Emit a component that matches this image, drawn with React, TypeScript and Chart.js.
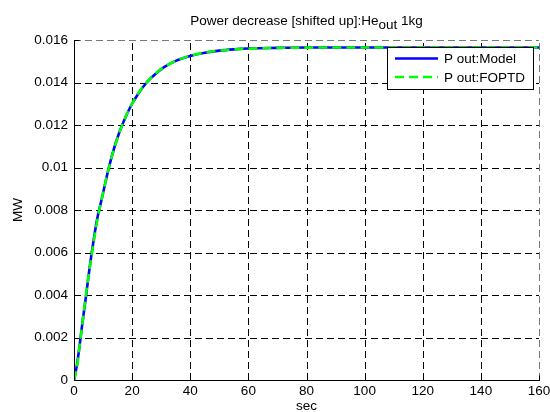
import React, { useEffect, useRef } from 'react';
import { Chart, registerables } from 'chart.js';

Chart.register(...registerables);

// ---- data ----
const timeSec = [0, 1, 2, 3, 4, 5, 6, 7, 8, 9, 10, 12, 14, 16, 18, 20, 22, 25, 28, 31, 35, 40, 45, 50, 55, 60, 70, 80, 90, 100, 110, 120, 130, 140, 150, 160];
const modelMW = [0, 0.0007, 0.0017, 0.0028, 0.0038, 0.0049, 0.0059, 0.0068, 0.0076, 0.0082, 0.0088, 0.0100, 0.0110, 0.0118, 0.01245, 0.0130, 0.01345, 0.0140, 0.0144, 0.01472, 0.01502, 0.01525, 0.0154, 0.0155, 0.01556, 0.0156, 0.01563, 0.01565, 0.01565, 0.01565, 0.01565, 0.01565, 0.01565, 0.01565, 0.01565, 0.01565];
const foptdMW = [0, 0.0006, 0.0017, 0.0028, 0.0039, 0.0049, 0.0058, 0.0067, 0.0075, 0.0082, 0.0088, 0.0100, 0.01098, 0.01179, 0.01246, 0.01301, 0.01347, 0.01401, 0.01442, 0.01473, 0.01502, 0.01526, 0.01541, 0.0155, 0.01556, 0.01559, 0.01563, 0.01564, 0.01565, 0.01565, 0.01565, 0.01565, 0.01565, 0.01565, 0.01565, 0.01565];
const xTickValues = [0, 20, 40, 60, 80, 100, 120, 140, 160];
const yTickValues = [0, 0.002, 0.004, 0.006, 0.008, 0.01, 0.012, 0.014, 0.016];
const seriesLabels = ['P out:Model', 'P out:FOPTD'];
const titleMain = 'Power decrease [shifted up]:He';
const titleSub = 'out';
const titleTail = ' 1kg';
const xAxisLabel = 'sec';
const yAxisLabel = 'MW';

const FONT = "'Liberation Sans', Arial, sans-serif";
const FS = 13.5;
const BLUE = '#0000ff';
const GREEN = '#00ff00';
const GREEN_DASH = [9, 5];

const decorPlugin = {
  id: 'matlabDecor',
  beforeDatasetsDraw(chart: any) {
    const { ctx, chartArea: a, scales } = chart;
    const xs = scales.x, ys = scales.y;
    ctx.save();
    ctx.lineWidth = 1;
    ctx.setLineDash([7, 4]);
    xTickValues.forEach((v, i) => {
      if (i === 0) return;
      const px = Math.round(xs.getPixelForValue(v)) + 0.5;
      ctx.strokeStyle = i === xTickValues.length - 1 ? '#777' : '#000';
      ctx.beginPath();
      ctx.moveTo(px, a.bottom);
      ctx.lineTo(px, a.top);
      ctx.stroke();
    });
    yTickValues.forEach((v, i) => {
      if (i === 0) return;
      const py = Math.round(ys.getPixelForValue(v)) + 0.5;
      ctx.strokeStyle = i === yTickValues.length - 1 ? '#777' : '#000';
      ctx.beginPath();
      ctx.moveTo(a.left, py);
      ctx.lineTo(a.right, py);
      ctx.stroke();
    });
    ctx.restore();
  },
  afterDatasetsDraw(chart: any) {
    const { ctx, chartArea: a, scales } = chart;
    const xs = scales.x, ys = scales.y;
    ctx.save();
    ctx.setLineDash([]);
    ctx.strokeStyle = '#000';
    ctx.lineWidth = 1;
    const L = Math.round(a.left) + 0.5;
    const B = Math.round(a.bottom) + 0.5;
    ctx.beginPath();
    ctx.moveTo(L, Math.round(a.top));
    ctx.lineTo(L, B);
    ctx.lineTo(Math.round(a.right) + 1, B);
    ctx.stroke();
    // inward ticks
    ctx.beginPath();
    xTickValues.forEach((v) => {
      const px = Math.round(xs.getPixelForValue(v)) + 0.5;
      ctx.moveTo(px, B);
      ctx.lineTo(px, B - 5);
    });
    yTickValues.forEach((v) => {
      const py = Math.round(ys.getPixelForValue(v)) + 0.5;
      ctx.moveTo(L, py);
      ctx.lineTo(L + 5, py);
    });
    ctx.stroke();
    ctx.restore();
  },
  afterDraw(chart: any) {
    const { ctx, chartArea: a } = chart;
    ctx.save();
    ctx.fillStyle = '#000';
    ctx.font = `${FS}px ${FONT}`;
    // title with subscript
    const w1 = ctx.measureText(titleMain).width;
    const w2 = ctx.measureText(titleSub).width;
    const w3 = ctx.measureText(titleTail).width;
    const cx = (a.left + a.right) / 2;
    let tx = cx - (w1 + w2 + w3) / 2;
    ctx.textAlign = 'left';
    ctx.textBaseline = 'alphabetic';
    ctx.fillText(titleMain, tx, 25);
    tx += w1;
    ctx.fillText(titleSub, tx, 29);
    tx += w2;
    ctx.fillText(titleTail, tx, 25);
    // axis labels
    ctx.textAlign = 'center';
    ctx.textBaseline = 'middle';
    ctx.fillText(xAxisLabel, cx, 406);
    ctx.save();
    ctx.translate(18, (a.top + a.bottom) / 2);
    ctx.rotate(-Math.PI / 2);
    ctx.fillText(yAxisLabel, 0, 0);
    ctx.restore();
    // legend
    const bx = 387.5, by = 47.5, bw = 146, bh = 42;
    ctx.fillStyle = '#fff';
    ctx.fillRect(bx, by, bw, bh);
    ctx.strokeStyle = '#000';
    ctx.lineWidth = 1;
    ctx.setLineDash([]);
    ctx.strokeRect(bx, by, bw, bh);
    const rows = [58.5, 77];
    ctx.lineWidth = 2.6;
    ctx.strokeStyle = BLUE;
    ctx.beginPath();
    ctx.moveTo(395, rows[0]);
    ctx.lineTo(438, rows[0]);
    ctx.stroke();
    ctx.strokeStyle = GREEN;
    ctx.setLineDash(GREEN_DASH);
    ctx.beginPath();
    ctx.moveTo(395, rows[1]);
    ctx.lineTo(438, rows[1]);
    ctx.stroke();
    ctx.setLineDash([]);
    ctx.fillStyle = '#000';
    ctx.textAlign = 'left';
    ctx.textBaseline = 'middle';
    ctx.fillText(seriesLabels[0], 444, rows[0] + 1);
    ctx.fillText(seriesLabels[1], 444, rows[1] + 1);
    ctx.restore();
  },
};

export default function App() {
  const ref = useRef<HTMLCanvasElement | null>(null);
  useEffect(() => {
    if (!ref.current) return;
    const chart = new Chart(ref.current, {
      type: 'line',
      data: {
        datasets: [
          {
            label: seriesLabels[0],
            data: timeSec.map((t, i) => ({ x: t, y: modelMW[i] })),
            borderColor: BLUE,
            borderWidth: 2.6,
            pointRadius: 0,
            cubicInterpolationMode: 'monotone',
            order: 2,
          },
          {
            label: seriesLabels[1],
            data: timeSec.map((t, i) => ({ x: t, y: foptdMW[i] })),
            borderColor: GREEN,
            borderWidth: 2.6,
            borderDash: GREEN_DASH,
            pointRadius: 0,
            cubicInterpolationMode: 'monotone',
            order: 1,
          },
        ],
      } as any,
      options: {
        responsive: false,
        animation: false,
        devicePixelRatio: 1,
        layout: { padding: { top: 40, right: 11, left: 0, bottom: 0 } },
        plugins: { legend: { display: false }, title: { display: false }, tooltip: { enabled: false } },
        scales: {
          x: {
            type: 'linear',
            min: 0,
            max: 160,
            afterBuildTicks: (s: any) => { s.ticks = xTickValues.map((v) => ({ value: v })); },
            ticks: { color: '#000', font: { family: FONT, size: FS }, padding: 3, maxRotation: 0, autoSkip: false },
            grid: { display: false, drawTicks: false },
            border: { display: false },
            afterFit: (s: any) => { s.height = 32; s.paddingLeft = 0; s.paddingRight = 0; },
          },
          y: {
            type: 'linear',
            min: 0,
            max: 0.016,
            afterBuildTicks: (s: any) => { s.ticks = yTickValues.map((v) => ({ value: v })); },
            ticks: { color: '#000', font: { family: FONT, size: FS }, padding: 6, autoSkip: false, callback: (v: any) => String(Number(v)) },
            grid: { display: false, drawTicks: false },
            border: { display: false },
            afterFit: (s: any) => { s.width = 74; s.paddingTop = 0; s.paddingBottom = 0; },
          },
        },
      } as any,
      plugins: [decorPlugin],
    });
    return () => chart.destroy();
  }, []);
  return (
    <div style={{ position: 'absolute', left: 0, top: 0, width: 550, height: 412, background: '#fff' }}>
      <canvas ref={ref} width={550} height={412} style={{ display: 'block' }} />
    </div>
  );
}
